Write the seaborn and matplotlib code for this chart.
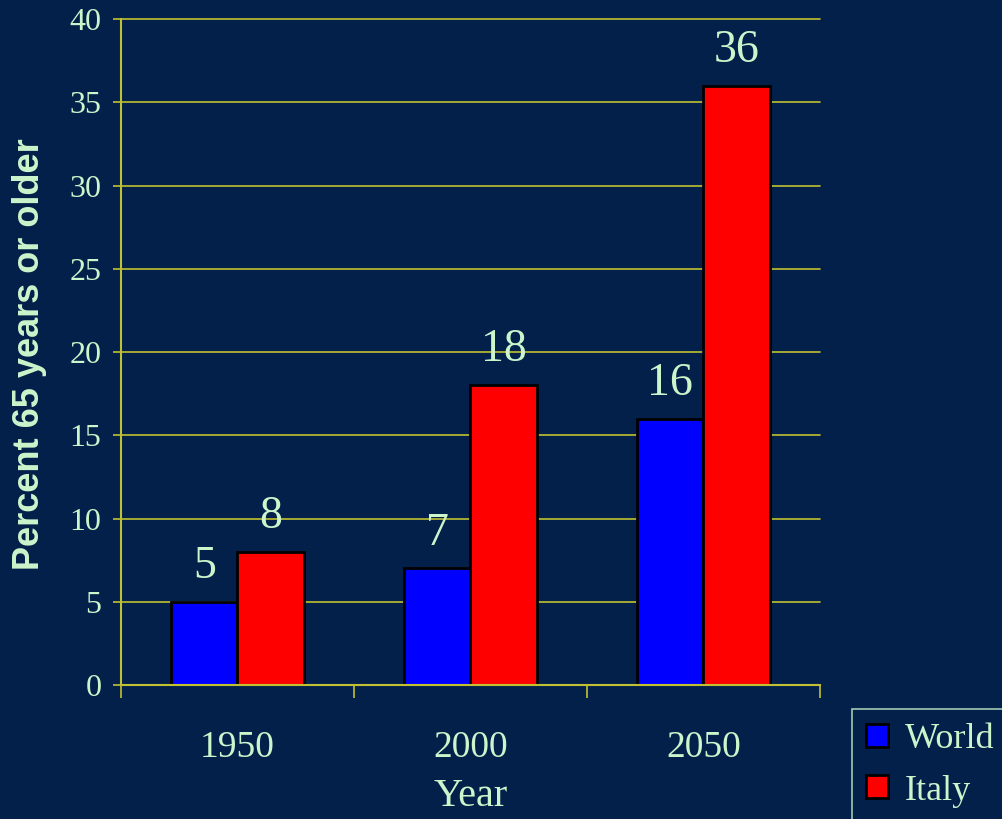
import matplotlib
matplotlib.use("Agg")
import matplotlib.pyplot as plt
import seaborn as sns
import pandas as pd
from matplotlib.ticker import FixedLocator

# data
years = ["1950", "2000", "2050"]
world = [5, 7, 16]
italy = [8, 18, 36]
series = ["World", "Italy"]

df = pd.DataFrame({
    "Year": years * 2,
    "value": world + italy,
    "series": ["World"] * 3 + ["Italy"] * 3,
})

bg = "#03204a"
txt = "#ccf5cc"
grid = "#c0c030"

sns.set_style("white")
plt.rcParams["font.family"] = ["Liberation Serif", "DejaVu Serif"]

fig = plt.figure(figsize=(10.03, 8.19), dpi=100, facecolor=bg)
ax = fig.add_axes([0.1206, 0.1636, 0.6969, 0.8132], facecolor=bg)

sns.barplot(data=df, x="Year", y="value", hue="series", hue_order=series,
            palette=["#0000ff", "#ff0000"], width=0.57, saturation=1,
            edgecolor="black", linewidth=2, ax=ax, legend=True)

for c in ax.containers:
    ax.bar_label(c, padding=10, color=txt, fontsize=33)

ax.set_ylim(0, 40)
ax.set_xlim(-0.5, 2.5)
ax.set_yticks(range(0, 41, 5))
ax.yaxis.grid(True, color=grid, linewidth=1.2)
for gl in ax.yaxis.get_gridlines():
    gl.set_clip_on(False)
ax.set_axisbelow(True)

for s in ["top", "right"]:
    ax.spines[s].set_visible(False)
for s in ["left", "bottom"]:
    ax.spines[s].set_color(grid)
    ax.spines[s].set_linewidth(1.5)

ax.tick_params(axis="y", colors=grid, labelcolor=txt, labelsize=23,
               length=6, width=1.2, direction="out", left=True, pad=8)
ax.tick_params(axis="x", which="major", length=0, pad=33, labelcolor=txt,
               labelsize=27)
ax.xaxis.set_minor_locator(FixedLocator([-0.5, 0.5, 1.5, 2.5]))
ax.tick_params(axis="x", which="minor", length=9, width=1.2, color=grid,
               direction="out", bottom=True)

ax.set_xlabel("Year", color=txt, fontsize=29, labelpad=9)
ax.set_ylabel("Percent 65 years or older", color=txt, fontsize=26,
              fontweight="bold", family=["Liberation Sans", "DejaVu Sans"])
ax.yaxis.set_label_coords(-0.106, 0.497)

leg = ax.legend(loc="upper left", bbox_to_anchor=(0.8495, 0.1343),
                bbox_transform=fig.transFigure, fontsize=26, frameon=True,
                fancybox=False, facecolor=bg, edgecolor=txt, borderaxespad=0,
                handlelength=0.6, handleheight=0.6, handletextpad=0.45,
                labelspacing=0.5, borderpad=0.4, labelcolor=txt)
leg.get_frame().set_linewidth(1.2)

fig.savefig("out.png", dpi=100, facecolor=bg)
